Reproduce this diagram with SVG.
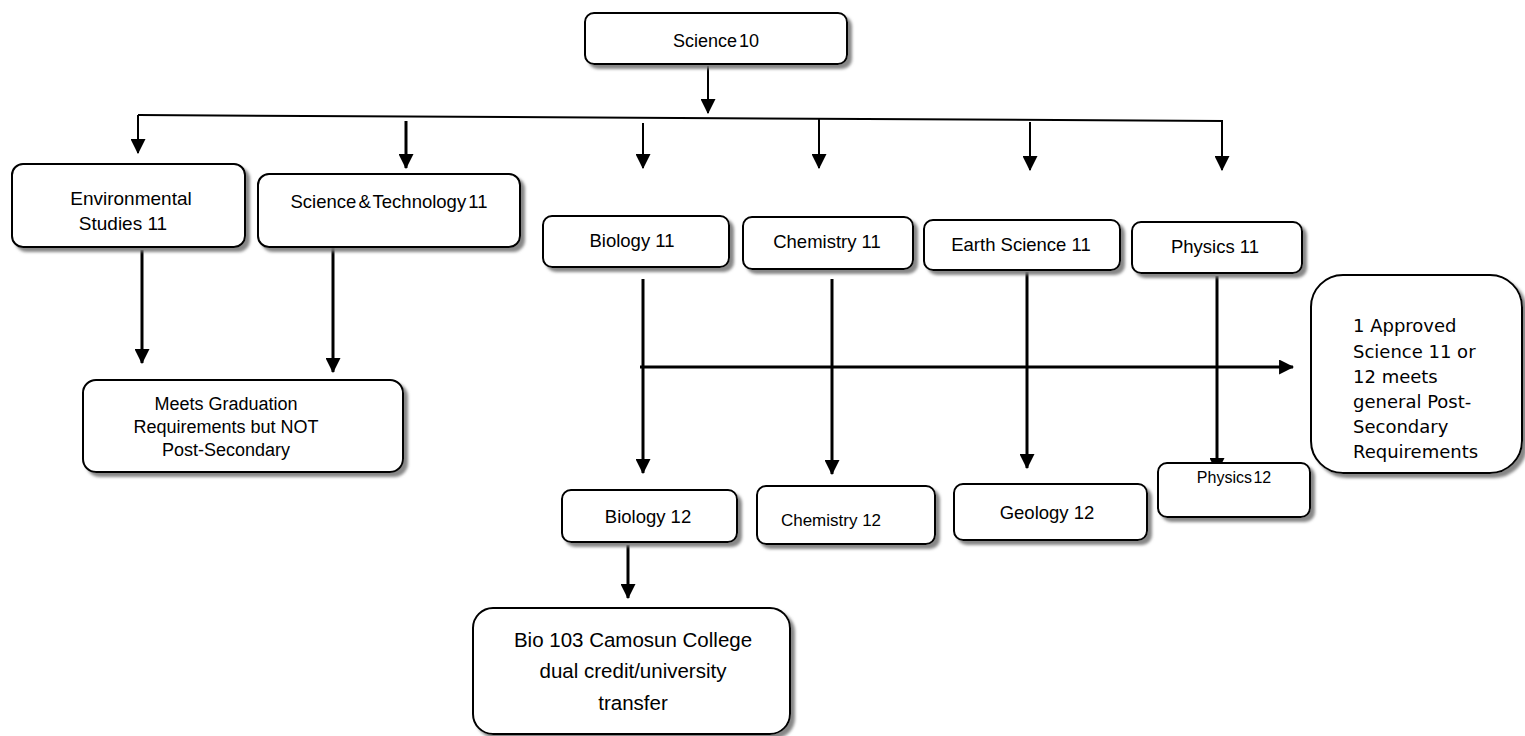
<svg xmlns="http://www.w3.org/2000/svg" width="1525" height="736" viewBox="0 0 1525 736">
<defs>
<filter id="sh" x="-10%" y="-10%" width="130%" height="140%">
<feDropShadow dx="4" dy="4" stdDeviation="1.4" flood-color="#7a7a7a" flood-opacity="0.9"/>
</filter>
<marker id="ah" markerUnits="userSpaceOnUse" markerWidth="15" markerHeight="15" viewBox="0 0 14 14" refX="13" refY="7" orient="auto">
<path d="M0,0 L14,7 L0,14 Z" fill="#000"/>
</marker>
</defs>
<style>
.box{fill:#fff;stroke:#000;stroke-width:2;filter:url(#sh)}
.t{font-family:"Liberation Sans",Arial,sans-serif;fill:#000;text-anchor:middle}
.v{font-family:"DejaVu Sans",Verdana,sans-serif;fill:#000;font-size:18px}
.c{fill:none;stroke:#000}
.thin{stroke-width:2}
.thick{stroke-width:3}
</style>

<g id="connectors">
<line class="c thin" x1="708" y1="66" x2="708" y2="113" marker-end="url(#ah)"/>
<line class="c thin" x1="138" y1="115" x2="1223" y2="121"/>
<line class="c thin" x1="138" y1="115" x2="138" y2="153" marker-end="url(#ah)"/>
<line class="c thick" x1="406" y1="121" x2="406" y2="168" marker-end="url(#ah)"/>
<line class="c thin" x1="643" y1="123" x2="643" y2="168" marker-end="url(#ah)"/>
<line class="c thin" x1="819" y1="118" x2="819" y2="168" marker-end="url(#ah)"/>
<line class="c thin" x1="1030" y1="122" x2="1030" y2="170" marker-end="url(#ah)"/>
<line class="c thin" x1="1222" y1="121" x2="1222" y2="170" marker-end="url(#ah)"/>
<line class="c thick" x1="142" y1="250" x2="142" y2="363" marker-end="url(#ah)"/>
<line class="c thick" x1="333" y1="248" x2="333" y2="372" marker-end="url(#ah)"/>
<line class="c thick" x1="643" y1="279" x2="643" y2="473" marker-end="url(#ah)"/>
<line class="c thick" x1="832" y1="279" x2="832" y2="474" marker-end="url(#ah)"/>
<line class="c thick" x1="1027" y1="272" x2="1027" y2="468" marker-end="url(#ah)"/>
<line class="c thick" x1="1217" y1="276" x2="1217" y2="472" marker-end="url(#ah)"/>
<line class="c thick" x1="640" y1="367" x2="1293" y2="367" marker-end="url(#ah)"/>
<line class="c thick" x1="628" y1="545" x2="628" y2="598" marker-end="url(#ah)"/>
</g>

<g id="science10">
<rect class="box" x="585" y="13" width="262" height="51" rx="9"/>
<text class="t" x="716" y="47" font-size="18" word-spacing="-3">Science 10</text>
</g>

<g id="env11">
<rect class="box" x="12" y="164" width="233" height="83" rx="11"/>
<text class="t" x="131" y="205" font-size="19">Environmental</text>
<text class="t" x="123" y="230" font-size="19">Studies 11</text>
</g>

<g id="scitech11">
<rect class="box" x="258" y="174" width="262" height="73" rx="11"/>
<text class="t" x="389" y="208" font-size="18.5" word-spacing="-3">Science &amp; Technology 11</text>
</g>

<g id="bio11">
<rect class="box" x="543" y="216" width="186" height="51" rx="9"/>
<text class="t" x="632" y="247" font-size="18.5">Biology 11</text>
</g>

<g id="chem11">
<rect class="box" x="743" y="217" width="170" height="52" rx="9"/>
<text class="t" x="827" y="248" font-size="18.5">Chemistry 11</text>
</g>

<g id="earth11">
<rect class="box" x="924" y="220" width="196" height="50" rx="9"/>
<text class="t" x="1021" y="251" font-size="18.5">Earth Science 11</text>
</g>

<g id="phys11">
<rect class="box" x="1132" y="222" width="170" height="51" rx="9"/>
<text class="t" x="1215" y="253" font-size="18.5">Physics 11</text>
</g>

<g id="grad">
<rect class="box" x="83" y="380" width="320" height="92" rx="13"/>
<text class="t" x="226" y="410" font-size="18">Meets Graduation</text>
<text class="t" x="226" y="433" font-size="18">Requirements but NOT</text>
<text class="t" x="226" y="456" font-size="18">Post-Secondary</text>
</g>

<g id="approved">
<rect class="box" x="1311" y="275" width="211" height="198" rx="32"/>
<text class="v" x="1353" y="332">1 Approved</text>
<text class="v" x="1353" y="358">Science 11 or</text>
<text class="v" x="1353" y="383">12 meets</text>
<text class="v" x="1353" y="408">general Post-</text>
<text class="v" x="1353" y="433">Secondary</text>
<text class="v" x="1353" y="458">Requirements</text>
</g>

<g id="bio12">
<rect class="box" x="562" y="490" width="175" height="52" rx="9"/>
<text class="t" x="648" y="523" font-size="18.5">Biology 12</text>
</g>

<g id="chem12">
<rect class="box" x="757" y="486" width="178" height="58" rx="9"/>
<text class="t" x="831" y="526" font-size="17">Chemistry 12</text>
</g>

<g id="geo12">
<rect class="box" x="954" y="484" width="193" height="56" rx="9"/>
<text class="t" x="1047" y="519" font-size="18.5">Geology 12</text>
</g>

<g id="phys12">
<rect class="box" x="1158" y="463" width="152" height="54" rx="9"/>
<text class="t" x="1234" y="483" font-size="16" word-spacing="-3">Physics 12</text>
</g>

<g id="bio103">
<rect class="box" x="473" y="608" width="317" height="126" rx="20"/>
<text class="t" x="633" y="647" font-size="20.5">Bio 103 Camosun College</text>
<text class="t" x="633" y="678" font-size="20.5">dual credit/university</text>
<text class="t" x="633" y="710" font-size="20.5">transfer</text>
</g>
</svg>
